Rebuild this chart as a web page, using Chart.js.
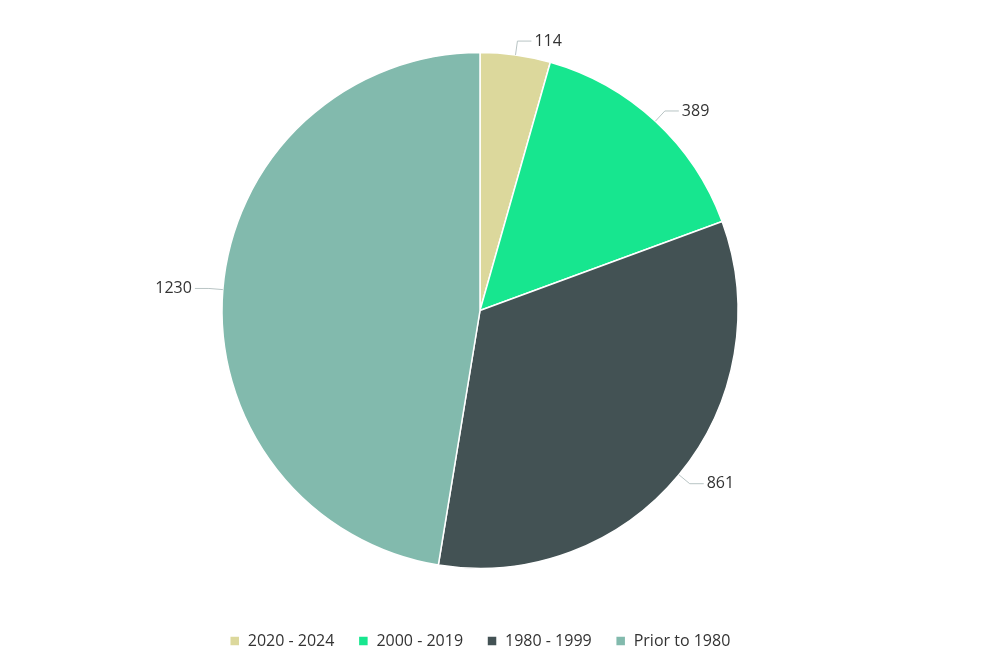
<!DOCTYPE html>
<html>
<head>
<meta charset="utf-8">
<script src="https://cdn.jsdelivr.net/npm/chart.js@4"></script>
<style>
  body { margin:0; background:#fff; }
  #wrap { width:1000px; height:663px; }
</style>
</head>
<body>
<div id="wrap"><canvas id="c"></canvas></div>
<script>
const categories = ['2020 - 2024', '2000 - 2019', '1980 - 1999', 'Prior to 1980']
const counts = [114, 389, 861, 1230]
const colors = ['#dcd89c', '#17e68f', '#435254', '#82baad']

// leader lines + value labels outside the slices
const outLabels = {
  id: 'outLabels',
  afterDatasetsDraw(chart){
    const ctx = chart.ctx
    const meta = chart.getDatasetMeta(0)
    ctx.save()
    ctx.font = '16px "Open Sans", sans-serif'
    ctx.fillStyle = '#333'
    ctx.strokeStyle = '#b8c4c4'
    ctx.lineWidth = 1
    meta.data.forEach((arc, i) => {
      const a = (arc.startAngle + arc.endAngle) / 2
      const r = arc.outerRadius
      const x0 = arc.x + Math.cos(a) * r, y0 = arc.y + Math.sin(a) * r
      const x1 = arc.x + Math.cos(a) * (r + 14), y1 = arc.y + Math.sin(a) * (r + 14)
      const right = Math.cos(a) >= 0
      const x2 = x1 + (right ? 14 : -14)
      ctx.beginPath()
      ctx.moveTo(x0, y0); ctx.lineTo(x1, y1); ctx.lineTo(x2, y1)
      ctx.stroke()
      ctx.textAlign = right ? 'left' : 'right'
      ctx.textBaseline = 'middle'
      ctx.fillText(String(counts[i]), x2 + (right ? 3 : -3), y1)
    })
    ctx.restore()
  }
}

new Chart(document.getElementById('c'), {
  type: 'pie',
  data: {
    labels: categories,
    datasets: [{ data: counts, backgroundColor: colors, borderColor: '#fff', borderWidth: 1.5, radius: 258 }]
  },
  options: {
    responsive: true,
    maintainAspectRatio: false,
    animation: false,
    layout: { padding: { top: 12, bottom: 4, left: 0, right: 40 } },
    plugins: {
      legend: {
        position: 'bottom',
        labels: {
          boxWidth: 10, boxHeight: 10, padding: 24,
          color: '#333',
          font: { size: 16, family: '"Open Sans", sans-serif' }
        }
      },
      tooltip: { enabled: false }
    }
  },
  plugins: [outLabels]
})
</script>
</body>
</html>
